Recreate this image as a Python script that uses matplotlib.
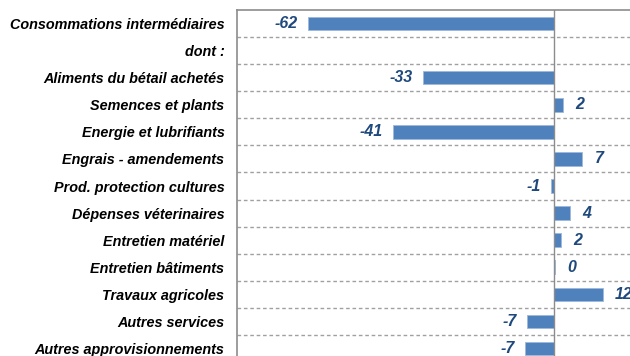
import numpy as np
import matplotlib.pyplot as plt

categories = ["Consommations intermédiaires", "dont :", "Aliments du bétail achetés",
              "Semences et plants", "Energie et lubrifiants", "Engrais - amendements",
              "Prod. protection cultures", "Dépenses véterinaires", "Entretien matériel",
              "Entretien bâtiments", "Travaux agricoles", "Autres services",
              "Autres approvisionnements"]
values = [-62.0, np.nan, -33.0, 2.3, -40.6, 7.1, -0.6, 4.0, 1.8, 0.3, 12.3, -6.8, -7.3]
labels = ["-62", "", "-33", "2", "-41", "7", "-1", "4", "2", "0", "12", "-7", "-7"]

plt.rcParams['font.family'] = ['Liberation Sans', 'DejaVu Sans']

fig = plt.figure(figsize=(6.3, 3.56), dpi=100)
ax = fig.add_axes([237 / 630, 1 - 10 / 356 - 352 / 356, 396 / 630, 352 / 356])

y = np.arange(len(categories))
ax.barh(y, values, height=0.5, color="#4F81BD", edgecolor="#9DB9DC", linewidth=0.6, zorder=3)

ax.set_xlim(-80, 20)
ax.set_ylim(len(categories) - 0.5, -0.5)

# dashed separators between rows
for k in range(len(categories) - 1):
    ax.axhline(k + 0.5, color="#A0A0A0", lw=1.0, ls=(0, (2.6, 2)), zorder=1)
ax.axvline(0, color="#8C8C8C", lw=1.0, zorder=4)

for s in ["right", "bottom"]:
    ax.spines[s].set_visible(False)
for s in ["left", "top"]:
    ax.spines[s].set_color("#8C8C8C")
    ax.spines[s].set_linewidth(1.2)

ax.set_xticks([])
ax.set_yticks(y)
ax.set_yticklabels(categories, fontsize=10.4, fontweight="bold", fontstyle="italic")
ax.tick_params(axis="y", length=0, pad=9)

for yi, v, t in zip(y, values, labels):
    if np.isnan(v):
        continue
    if v < 0:
        ax.annotate(t, (v, yi), xytext=(-7.5, 0), textcoords="offset points",
                    ha="right", va="center", fontsize=11.5, fontweight="bold",
                    fontstyle="italic", color="#1F497D")
    else:
        ax.annotate(t, (v, yi), xytext=(9, 0), textcoords="offset points",
                    ha="left", va="center", fontsize=11.5, fontweight="bold",
                    fontstyle="italic", color="#1F497D")

fig.savefig("out.png", dpi=100)
